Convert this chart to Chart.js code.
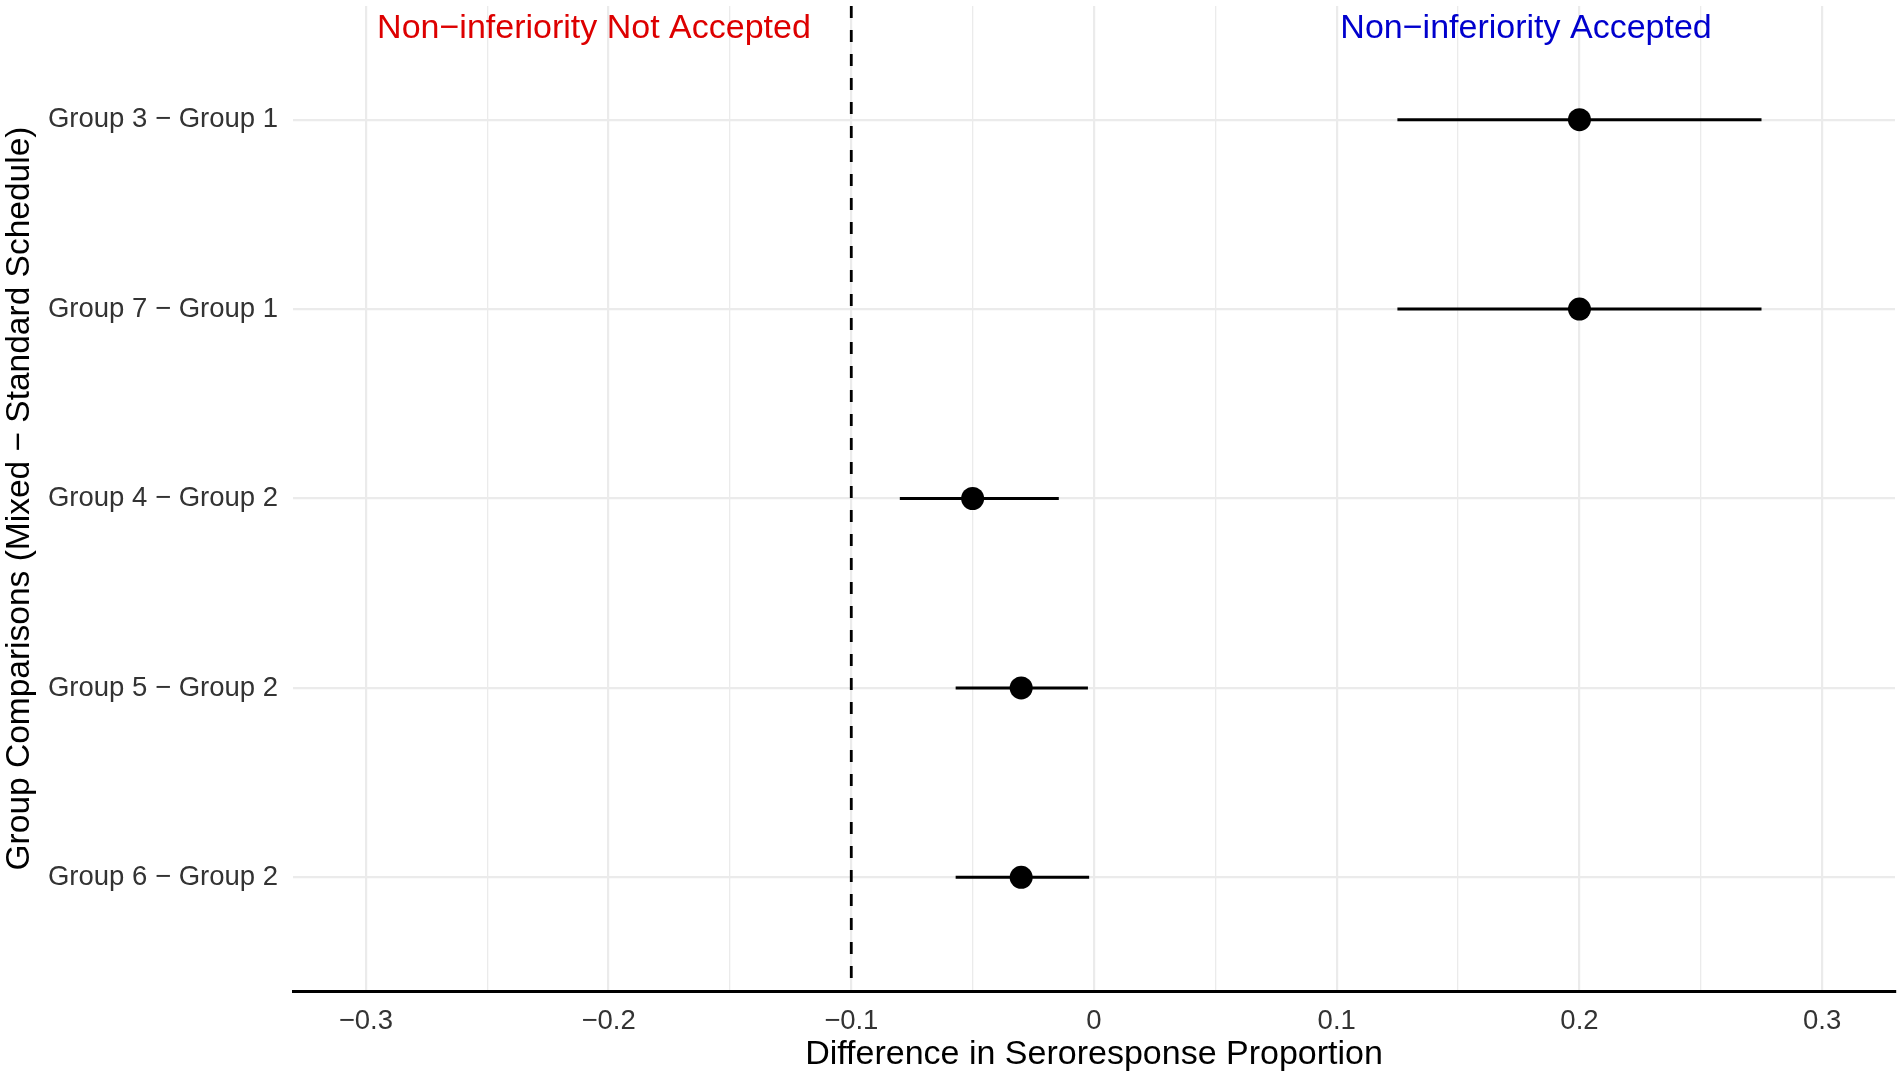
<!DOCTYPE html>
<html>
<head>
<meta charset="utf-8">
<title>Non-inferiority forest plot</title>
<script src="https://cdn.jsdelivr.net/npm/chart.js@4.4.1/dist/chart.umd.min.js"></script>
<style>
    html, body { margin: 0; padding: 0; background: #ffffff; }
    #wrap { width: 1902px; height: 1078px; position: relative; }
</style>
</head>
<body>
<div id="wrap"><canvas id="myChart"></canvas></div>
<script>
// comparisons, top to bottom
const comparisons = ['Group 3 \u2212 Group 1', 'Group 7 \u2212 Group 1', 'Group 4 \u2212 Group 2', 'Group 5 \u2212 Group 2', 'Group 6 \u2212 Group 2'];
const estimates = [0.2, 0.2, -0.05, -0.03, -0.03];
const ciLower = [0.125, 0.125, -0.08, -0.057, -0.057];
const ciUpper = [0.275, 0.275, -0.0145, -0.0025, -0.002];

const margin = -0.1;
const xMajorTicks = [-0.3, -0.2, -0.1, 0, 0.1, 0.2, 0.3];
const xMinorTicks = [-0.25, -0.15, -0.05, 0.05, 0.15, 0.25];

const noteLabels = ['Non\u2212inferiority Not Accepted', 'Non\u2212inferiority Accepted'];
const noteX = [-0.206, 0.178];
const noteY = 0.52;
const noteColors = ['#dd0000', '#0000cd'];

const FONT = "'Liberation Sans', Arial, sans-serif";

function fmtTick(v) {
    let r = Math.round(v * 100) / 100;
    if (r === 0) return '0';
    let s = String(Math.abs(r));
    return r < 0 ? '\u2212' + s : s;
}

function isMajor(v) {
    return xMajorTicks.some(t => Math.abs(t - v) < 1e-9);
}

// point estimate + interval segments
let datasets = [{
    type: 'scatter',
    data: estimates.map((e, i) => ({ x: e, y: i + 1 })),
    pointRadius: 11.5,
    pointHoverRadius: 11.5,
    backgroundColor: '#000000',
    borderColor: '#000000',
    borderWidth: 0
}];

comparisons.forEach(function (c, i) {
    datasets.push({
        type: 'line',
        data: [{ x: ciLower[i], y: i + 1 }, { x: ciUpper[i], y: i + 1 }],
        borderColor: '#000000',
        borderWidth: 3,
        pointRadius: 0,
        fill: false
    });
});

datasets.push({
    type: 'line',
    data: [{ x: margin, y: 0.4 }, { x: margin, y: 5.6 }],
    borderColor: '#000000',
    borderWidth: 2.8,
    borderDash: [12, 12],
    pointRadius: 0,
    fill: false
});

const notesPlugin = {
    id: 'notes',
    afterDatasetsDraw(chart) {
        const c = chart.ctx;
        const xs = chart.scales.x;
        const ys = chart.scales.y;
        c.save();
        c.font = '34px ' + FONT;
        c.textAlign = 'center';
        c.textBaseline = 'middle';
        noteLabels.forEach(function (t, i) {
            c.fillStyle = noteColors[i];
            c.fillText(t, xs.getPixelForValue(noteX[i]), ys.getPixelForValue(noteY));
        });
        c.restore();
    }
};

const ctx = document.getElementById('myChart');

let cfg = {
    data: { datasets: datasets },
    options: {
        responsive: true,
        maintainAspectRatio: false,
        animation: false,
        layout: { autoPadding: false, padding: { left: 0, right: 7, top: 6, bottom: 0 } },
        plugins: {
            legend: { display: false },
            tooltip: { enabled: false }
        },
        scales: {
            x: {
                type: 'linear',
                min: -0.33,
                max: 0.33,
                afterBuildTicks: function (scale) {
                    scale.ticks = xMajorTicks.concat(xMinorTicks).sort((a, b) => a - b).map(v => ({ value: v }));
                },
                afterFit: function (scale) { scale.height = 87; },
                ticks: {
                    autoSkip: false,
                    maxRotation: 0,
                    padding: 14,
                    color: '#333333',
                    font: { family: FONT, size: 27.5 },
                    callback: function (value) {
                        return isMajor(value) ? fmtTick(value) : '';
                    }
                },
                grid: {
                    drawTicks: false,
                    color: '#ebebeb',
                    lineWidth: function (c) {
                        return c.tick && isMajor(c.tick.value) ? 2.2 : 1.3;
                    }
                },
                border: { display: true, color: '#000000', width: 3 },
                title: {
                    display: true,
                    text: 'Difference in Seroresponse Proportion',
                    color: '#000000',
                    font: { family: FONT, size: 34 },
                    padding: { top: 0, bottom: 3 }
                }
            },
            y: {
                type: 'linear',
                reverse: true,
                min: 0.4,
                max: 5.6,
                afterBuildTicks: function (scale) {
                    scale.ticks = comparisons.map((c, i) => ({ value: i + 1 }));
                },
                afterFit: function (scale) {
                    scale.width = 293;
                    scale.paddingTop = 0;
                    scale.paddingBottom = 0;
                },
                ticks: {
                    autoSkip: false,
                    padding: 15,
                    color: '#333333',
                    font: { family: FONT, size: 27.5 },
                    callback: function (value) {
                        return comparisons[Math.round(value) - 1] || '';
                    }
                },
                grid: {
                    drawTicks: false,
                    color: '#ebebeb',
                    lineWidth: 2.2
                },
                border: { display: false },
                title: {
                    display: true,
                    text: 'Group Comparisons (Mixed \u2212 Standard Schedule)',
                    color: '#000000',
                    font: { family: FONT, size: 33.5 },
                    padding: { top: 0, bottom: 0 }
                }
            }
        }
    },
    plugins: [notesPlugin]
};

let myChart = new Chart(ctx, cfg);
</script>
</body>
</html>
